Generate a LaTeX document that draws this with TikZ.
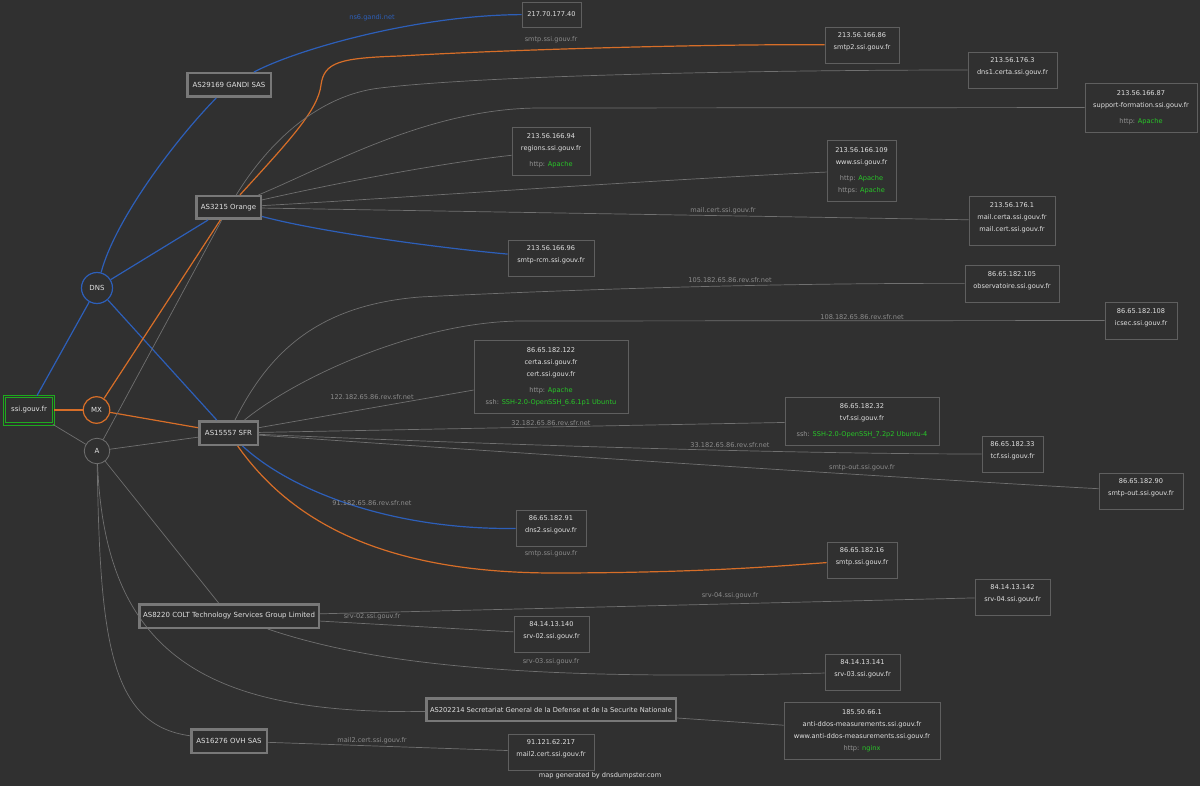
\documentclass[tikz,border=0pt]{standalone}
\usepackage{fontspec}
\setmainfont{DejaVu Sans}
\definecolor{bgc}{RGB}{48,48,48}
\definecolor{txtc}{RGB}{225,225,225}
\definecolor{labc}{RGB}{140,140,140}
\definecolor{edgec}{RGB}{112,112,112}
\definecolor{bluec}{RGB}{45,95,185}
\definecolor{orangec}{RGB}{215,110,40}
\definecolor{hostline}{RGB}{95,95,95}
\definecolor{asline}{RGB}{120,120,120}
\definecolor{greenc}{RGB}{30,170,30}
\definecolor{okgreen}{RGB}{40,200,40}
\definecolor{svclab}{RGB}{150,150,150}
\newcommand{\hostfont}{\fontsize{6.6pt}{12pt}\selectfont}
\newcommand{\asfont}{\fontsize{7pt}{9pt}\selectfont}
\newcommand{\svc}[2]{{\color{svclab}#1} {\color{okgreen}#2}}
\newcommand{\liftup}{\\[-5pt]{}}
\tikzset{
  host/.style={draw=hostline, fill=bgc, line width=0.8pt, text=txtc, font=\hostfont, align=center, inner sep=0pt},
  asbox/.style={draw=asline, fill=bgc, line width=2.5pt, text=txtc, font=\asfont, inner sep=0pt},
  edgegray/.style={draw=edgec, line width=0.7pt},
  edgeblue/.style={draw=bluec, line width=1.2pt},
  edgeorange/.style={draw=orangec, line width=1.2pt},
  elabel/.style={text=labc, font=\hostfont, inner sep=0pt},
  rec/.style={circle, fill=bgc, line width=1.2pt, text=txtc, font=\asfont, inner sep=0pt},
}
\begin{document}
\begin{tikzpicture}[x=1pt,y=-1pt]
\fill[bgc] (0,0) rectangle (1200,786);
\useasboundingbox (0,0) rectangle (1200,786);

% root and record types
\node[draw=greenc, double=bgc, double distance=1.3pt, line width=1pt, fill=bgc, text=txtc, font=\asfont, minimum width=48.7pt, minimum height=27.7pt, inner sep=0pt] (ssi) at (29,410) {ssi.gouv.fr};
\node[rec, draw=bluec, minimum size=31pt] (dns) at (97,288) {DNS};
\node[rec, draw=orangec, minimum size=26.5pt] (mx) at (96.5,410) {MX};
\node[rec, draw=edgec, line width=0.8pt, minimum size=25.5pt] (a) at (97,451) {A};

% AS boxes
\node[asbox, minimum width=83.5pt, minimum height=23.5pt] (asgandi) at (229,85) {AS29169 GANDI SAS};
\node[asbox, minimum width=64.5pt, minimum height=22.5pt] (asorange) at (228.5,207.5) {AS3215 Orange};
\node[asbox, minimum width=58.5pt, minimum height=23.5pt] (assfr) at (228.5,433) {AS15557 SFR};
\node[asbox, minimum width=179.5pt, minimum height=23.5pt] (ascolt) at (229,616) {AS8220 COLT Technology Services Group Limited};
\node[asbox, font=\fontsize{6.7pt}{9pt}\selectfont, minimum width=249.5pt, minimum height=22.5pt] (assgdsn) at (551,709.5) {AS202214 Secretariat General de la Defense et de la Securite Nationale};
\node[asbox, minimum width=75.5pt, minimum height=23.5pt] (asovh) at (229,741) {AS16276 OVH SAS};

% hosts
\node[host, minimum width=59pt, minimum height=25pt] (ip217) at (551.5,14.5) {217.70.177.40};
\node[host, minimum width=74pt, minimum height=36pt] (smtp2) at (862,45) {213.56.166.86\\smtp2.ssi.gouv.fr\liftup};
\node[host, minimum width=89pt, minimum height=36pt] (dns1) at (1012.5,70) {213.56.176.3\\dns1.certa.ssi.gouv.fr\liftup};
\node[host, minimum width=112pt, minimum height=49pt] (support) at (1141,107.5) {213.56.166.87\\support-formation.ssi.gouv.fr\\[4pt]\svc{http:}{Apache}};
\node[host, minimum width=78pt, minimum height=48pt] (regions) at (551,151) {213.56.166.94\\regions.ssi.gouv.fr\\[4pt]\svc{http:}{Apache}};
\node[host, minimum width=69pt, minimum height=61pt] (www) at (861.5,170.5) {213.56.166.109\\www.ssi.gouv.fr\\[4pt]\svc{http:}{Apache}\\\svc{https:}{Apache}};
\node[host, minimum width=86pt, minimum height=49pt] (mailcerta) at (1012,220.5) {213.56.176.1\\mail.certa.ssi.gouv.fr\\mail.cert.ssi.gouv.fr\liftup};
\node[host, minimum width=86pt, minimum height=36pt] (rcm) at (551,258) {213.56.166.96\\smtp-rcm.ssi.gouv.fr\liftup};
\node[host, minimum width=94pt, minimum height=37pt] (observ) at (1012,283.5) {86.65.182.105\\observatoire.ssi.gouv.fr\liftup};
\node[host, minimum width=72pt, minimum height=37pt] (icsec) at (1141,320.5) {86.65.182.108\\icsec.ssi.gouv.fr\liftup};
\node[host, minimum width=154pt, minimum height=73pt] (certa) at (551,376.5) {86.65.182.122\\certa.ssi.gouv.fr\\cert.ssi.gouv.fr\\[4pt]\svc{http:}{Apache}\\\svc{ssh:}{SSH-2.0-OpenSSH\_6.6.1p1 Ubuntu}};
\node[host, minimum width=154pt, minimum height=48pt] (tvf) at (862,421) {86.65.182.32\\tvf.ssi.gouv.fr\\[4pt]\svc{ssh:}{SSH-2.0-OpenSSH\_7.2p2 Ubuntu-4}};
\node[host, minimum width=61pt, minimum height=36pt] (tcf) at (1012.5,454) {86.65.182.33\\tcf.ssi.gouv.fr\liftup};
\node[host, minimum width=84pt, minimum height=36pt] (smtpout) at (1141,491) {86.65.182.90\\smtp-out.ssi.gouv.fr\liftup};
\node[host, minimum width=70pt, minimum height=36pt] (dns2) at (551,528) {86.65.182.91\\dns2.ssi.gouv.fr\liftup};
\node[host, minimum width=70pt, minimum height=36pt] (smtp16) at (862,560) {86.65.182.16\\smtp.ssi.gouv.fr\liftup};
\node[host, minimum width=75pt, minimum height=36pt] (srv04) at (1012.5,597) {84.14.13.142\\srv-04.ssi.gouv.fr\liftup};
\node[host, minimum width=75pt, minimum height=36pt] (srv02) at (551.5,634) {84.14.13.140\\srv-02.ssi.gouv.fr\liftup};
\node[host, minimum width=75pt, minimum height=36pt] (srv03) at (862.5,672) {84.14.13.141\\srv-03.ssi.gouv.fr\liftup};
\node[host, minimum width=156pt, minimum height=57pt] (antiddos) at (862,730.5) {185.50.66.1\\anti-ddos-measurements.ssi.gouv.fr\\www.anti-ddos-measurements.ssi.gouv.fr\\\svc{http:}{nginx}};
\node[host, minimum width=86pt, minimum height=36pt] (mail2) at (551,752) {91.121.62.217\\mail2.cert.ssi.gouv.fr\liftup};

% blue edges
\draw[edgeblue] (ssi) -- (dns);
\draw[edgeblue] (dns) .. controls (115,220) and (175,140) .. (asgandi);
\draw[edgeblue] (dns) -- (asorange);
\draw[edgeblue] (dns) -- (assfr);
\draw[edgeblue] (asgandi) .. controls (300,48) and (420,15) .. (ip217);
\draw[edgeblue] (asorange) .. controls (320,232) and (440,248) .. (rcm);
\draw[edgeblue] (assfr) .. controls (290,490) and (390,530) .. (dns2);

% orange edges
\draw[edgeorange] (ssi) -- (mx);
\draw[edgeorange] (mx) -- (asorange);
\draw[edgeorange] (mx) -- (assfr);
\draw[edgeorange] (asorange) .. controls (290,140) and (318,110) .. (321,85) .. controls (324,62) and (340,58) .. (400,56) .. controls (500,50) and (700,44) .. (smtp2);
\draw[edgeorange] (assfr) .. controls (290,520) and (380,572) .. (550,573) .. controls (700,573) and (780,566) .. (smtp16);

% gray edges from root / A
\draw[edgegray] (ssi) -- (a);
\draw[edgegray] (a) -- (asorange);
\draw[edgegray] (a) -- (assfr);
\draw[edgegray] (a) -- (ascolt);
\draw[edgegray] (a) .. controls (105,650) and (200,715) .. (assgdsn);
\draw[edgegray] (a) .. controls (100,640) and (110,725) .. (asovh);

% gray edges from AS3215
\draw[edgegray] (asorange) .. controls (270,140) and (320,95) .. (380,88) .. controls (500,74) and (800,70) .. (dns1);
\draw[edgegray] (asorange) .. controls (330,165) and (430,108) .. (540,108) -- (support);
\draw[edgegray] (asorange) .. controls (350,180) and (450,162) .. (regions);
\draw[edgegray] (asorange) .. controls (400,198) and (650,180) .. (www);
\draw[edgegray] (asorange) -- (mailcerta);

% gray edges from AS15557
\draw[edgegray] (assfr) .. controls (270,350) and (320,305) .. (420,297) .. controls (600,288) and (800,283) .. (observ);
\draw[edgegray] (assfr) .. controls (300,375) and (420,322) .. (520,321) -- (icsec);
\draw[edgegray] (assfr) -- (certa);
\draw[edgegray] (assfr) -- (tvf);
\draw[edgegray] (assfr) .. controls (500,445) and (800,454) .. (tcf);
\draw[edgegray] (assfr) .. controls (500,452) and (900,478) .. (smtpout);

% gray edges from COLT, SGDSN, OVH
\draw[edgegray] (ascolt) -- (srv04);
\draw[edgegray] (ascolt) -- (srv02);
\draw[edgegray] (ascolt) .. controls (360,660) and (500,682) .. (srv03);
\draw[edgegray] (assgdsn) -- (antiddos);
\draw[edgegray] (asovh) -- (mail2);

% edge labels
\node[elabel, text=bluec] (l1) at (372,18) {ns6.gandi.net};
\node[elabel] (l2) at (551,40) {smtp.ssi.gouv.fr};
\node[elabel] (l3) at (723,211) {mail.cert.ssi.gouv.fr};
\node[elabel] (l4) at (730,280) {105.182.65.86.rev.sfr.net};
\node[elabel] (l5) at (862,317) {108.182.65.86.rev.sfr.net};
\node[elabel] (l6) at (372,397) {122.182.65.86.rev.sfr.net};
\node[elabel] (l7) at (551,423) {32.182.65.86.rev.sfr.net};
\node[elabel] (l8) at (730,445) {33.182.65.86.rev.sfr.net};
\node[elabel] (l9) at (862,468) {smtp-out.ssi.gouv.fr};
\node[elabel] (l10) at (372,503) {91.182.65.86.rev.sfr.net};
\node[elabel] (l11) at (551,554) {smtp.ssi.gouv.fr};
\node[elabel] (l12) at (730,596) {srv-04.ssi.gouv.fr};
\node[elabel] (l13) at (372,617) {srv-02.ssi.gouv.fr};
\node[elabel] (l14) at (551,662) {srv-03.ssi.gouv.fr};
\node[elabel] (l15) at (372,741) {mail2.cert.ssi.gouv.fr};
\node[elabel, text=txtc] (footer) at (600,776) {map generated by dnsdumpster.com};
\end{tikzpicture}
\end{document}
